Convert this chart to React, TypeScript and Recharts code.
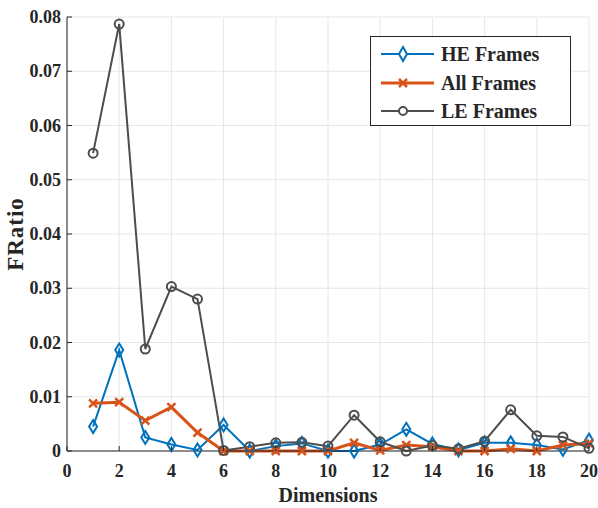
import React from 'react';
import {
  LineChart,
  Line,
  XAxis,
  YAxis,
  CartesianGrid,
  Legend,
  Label,
} from 'recharts';

if (typeof document !== 'undefined') document.body.style.margin = '0';

const dims = [1, 2, 3, 4, 5, 6, 7, 8, 9, 10, 11, 12, 13, 14, 15, 16, 17, 18, 19, 20];
const heFrames = [0.0045, 0.0186, 0.0025, 0.0012, 0.0002, 0.0048, 0.0, 0.0009, 0.0014, 0.0, 0.0, 0.0012, 0.004, 0.0013, 0.0002, 0.0015, 0.0015, 0.0011, 0.0003, 0.002];
const allFrames = [0.0088, 0.009, 0.0056, 0.0081, 0.0034, 0.0, 0.0, 0.0, 0.0, 0.0, 0.0015, 0.0001, 0.0011, 0.0008, 0.0, 0.0, 0.0004, 0.0, 0.0011, 0.0014];
const leFrames = [0.0549, 0.0787, 0.0188, 0.0303, 0.028, 0.0001, 0.0008, 0.0015, 0.0016, 0.0009, 0.0066, 0.0017, 0.0, 0.001, 0.0004, 0.0018, 0.0076, 0.0028, 0.0026, 0.0005];
const xTicks = [0, 2, 4, 6, 8, 10, 12, 14, 16, 18, 20];
const yTicks = [0, 0.01, 0.02, 0.03, 0.04, 0.05, 0.06, 0.07, 0.08];
const legendOrder = ['he', 'all', 'le'];

const rows = dims.map((d, i) => ({ dim: d, he: heFrames[i], all: allFrames[i], le: leFrames[i] }));

const FONT = '"Liberation Serif", "Times New Roman", serif';
const HE = '#0072BD';
const ALL = '#D95319';
const LE = '#4D4D4D';
const AXIS = '#262626';

const txt = (size: number): React.CSSProperties => ({
  fontFamily: FONT,
  fontWeight: 'bold',
  fontSize: size,
});

const fmtY = (v: number) => (v === 0 ? '0' : v.toFixed(2));

const Diamond = (p: any) => {
  const { cx, cy, index } = p;
  if (cx == null || cy == null) return <g key={index} />;
  return (
    <path
      key={`d${index}`}
      d={`M${cx},${cy - 6.5}L${cx + 4},${cy}L${cx},${cy + 6.5}L${cx - 4},${cy}Z`}
      fill="none"
      stroke={HE}
      strokeWidth={2}
    />
  );
};

const Cross = (p: any) => {
  const { cx, cy, index } = p;
  if (cx == null || cy == null) return <g key={index} />;
  return (
    <path
      key={`x${index}`}
      d={`M${cx - 4},${cy - 4}L${cx + 4},${cy + 4}M${cx - 4},${cy + 4}L${cx + 4},${cy - 4}`}
      stroke={ALL}
      strokeWidth={2.5}
    />
  );
};

const Ring = (p: any) => {
  const { cx, cy, index } = p;
  if (cx == null || cy == null) return <g key={index} />;
  return <circle key={`o${index}`} cx={cx} cy={cy} r={4.5} fill="none" stroke={LE} strokeWidth={2} />;
};

const BottomTick = (p: any) => (
  <g>
    <line x1={p.x} y1={p.y} x2={p.x} y2={p.y - 5} stroke={AXIS} strokeWidth={1} />
    <text x={p.x} y={p.y + 20} textAnchor="middle" dominantBaseline="central" style={txt(18)} fill={AXIS}>
      {p.payload.value}
    </text>
  </g>
);

const TopTick = (p: any) => <line x1={p.x} y1={p.y} x2={p.x} y2={p.y + 5} stroke={AXIS} strokeWidth={1} />;

const LeftTick = (p: any) => (
  <g>
    <line x1={p.x} y1={p.y} x2={p.x + 5} y2={p.y} stroke={AXIS} strokeWidth={1} />
    <text x={p.x - 6} y={p.y} textAnchor="end" dominantBaseline="central" style={txt(18)} fill={AXIS}>
      {fmtY(p.payload.value)}
    </text>
  </g>
);

const RightTick = (p: any) => <line x1={p.x} y1={p.y} x2={p.x - 5} y2={p.y} stroke={AXIS} strokeWidth={1} />;

const markerFor = (key: string) => {
  if (key === 'he') return <path d="M32,3L36,10L32,17L28,10Z" fill="white" stroke={HE} strokeWidth={2} />;
  if (key === 'all') return <path d="M28,6L36,14M28,14L36,6" stroke={ALL} strokeWidth={2.5} />;
  return <circle cx={32} cy={10} r={4} fill="white" stroke={LE} strokeWidth={2} />;
};

const LegendBox = (props: any) => {
  const items = [...(props.payload || [])].sort(
    (a: any, b: any) => legendOrder.indexOf(a.dataKey) - legendOrder.indexOf(b.dataKey)
  );
  return (
    <div
      style={{
        width: 201,
        height: 90,
        border: `1px solid ${AXIS}`,
        background: 'white',
        padding: '3px 0 0 0',
        boxSizing: 'border-box',
        ...txt(20),
        color: AXIS,
      }}
    >
      {items.map((e: any) => (
        <div key={e.dataKey} style={{ display: 'flex', alignItems: 'center', height: 28.5 }}>
          <svg width={70} height={20}>
            <line x1={10} y1={10} x2={63} y2={10} stroke={e.color} strokeWidth={e.dataKey === 'all' ? 3 : 2} />
            {markerFor(e.dataKey)}
          </svg>
          <span style={{ lineHeight: '20px' }}>{e.value}</span>
        </div>
      ))}
    </div>
  );
};

export default function App() {
  return (
    <div style={{ width: 598, height: 508, background: 'white' }}>
      <LineChart width={598} height={508} data={rows} margin={{ top: 17, right: 9, bottom: 0, left: 0 }}>
        <CartesianGrid stroke="#e6e6e6" strokeWidth={1} />
        <XAxis
          dataKey="dim"
          type="number"
          domain={[0, 20]}
          ticks={xTicks}
          interval={0}
          height={57}
          tickSize={0}
          tickMargin={0}
          tickLine={false}
          axisLine={{ stroke: AXIS }}
          tick={BottomTick}
        >
          <Label
            content={(lp: any) => {
              const vb = lp.viewBox || { x: 67, y: 451, width: 522, height: 57 };
              return (
                <text x={vb.x + vb.width / 2} y={502} textAnchor="middle" style={txt(20)} fill={AXIS}>
                  Dimensions
                </text>
              );
            }}
          />
        </XAxis>
        <XAxis
          xAxisId="top"
          orientation="top"
          type="number"
          domain={[0, 20]}
          ticks={xTicks}
          interval={0}
          height={0}
          tickSize={0}
          tickMargin={0}
          tickLine={false}
          axisLine={{ stroke: AXIS }}
          tick={TopTick}
        />
        <YAxis
          type="number"
          domain={[0, 0.08]}
          ticks={yTicks}
          interval={0}
          width={67}
          tickSize={0}
          tickMargin={0}
          tickLine={false}
          axisLine={{ stroke: AXIS }}
          tick={LeftTick}
        >
          <Label
            content={(lp: any) => {
              const vb = lp.viewBox || { x: 0, y: 17, height: 434 };
              const cx = vb.x + 15;
              const cy = vb.y + vb.height / 2;
              return (
                <text
                  x={cx}
                  y={cy}
                  transform={`rotate(-90 ${cx} ${cy})`}
                  textAnchor="middle"
                  dominantBaseline="central"
                  style={{ ...txt(23), letterSpacing: 1 }}
                  fill={AXIS}
                >
                  FRatio
                </text>
              );
            }}
          />
        </YAxis>
        <YAxis
          yAxisId="right"
          orientation="right"
          type="number"
          domain={[0, 0.08]}
          ticks={yTicks}
          interval={0}
          width={0}
          tickSize={0}
          tickMargin={0}
          tickLine={false}
          axisLine={{ stroke: AXIS }}
          tick={RightTick}
        />
        <Legend
          layout="horizontal"
          verticalAlign="middle"
          align="center"
          content={LegendBox}
          wrapperStyle={{ position: 'absolute', left: 370, top: 36, width: 201, height: 90 }}
        />
        <Line dataKey="he" name="HE Frames" stroke={HE} strokeWidth={2} dot={Diamond} activeDot={false} isAnimationActive={false} />
        <Line dataKey="all" name="All Frames" stroke={ALL} strokeWidth={3} dot={Cross} activeDot={false} isAnimationActive={false} />
        <Line dataKey="le" name="LE Frames" stroke={LE} strokeWidth={2} dot={Ring} activeDot={false} isAnimationActive={false} />
      </LineChart>
    </div>
  );
}
